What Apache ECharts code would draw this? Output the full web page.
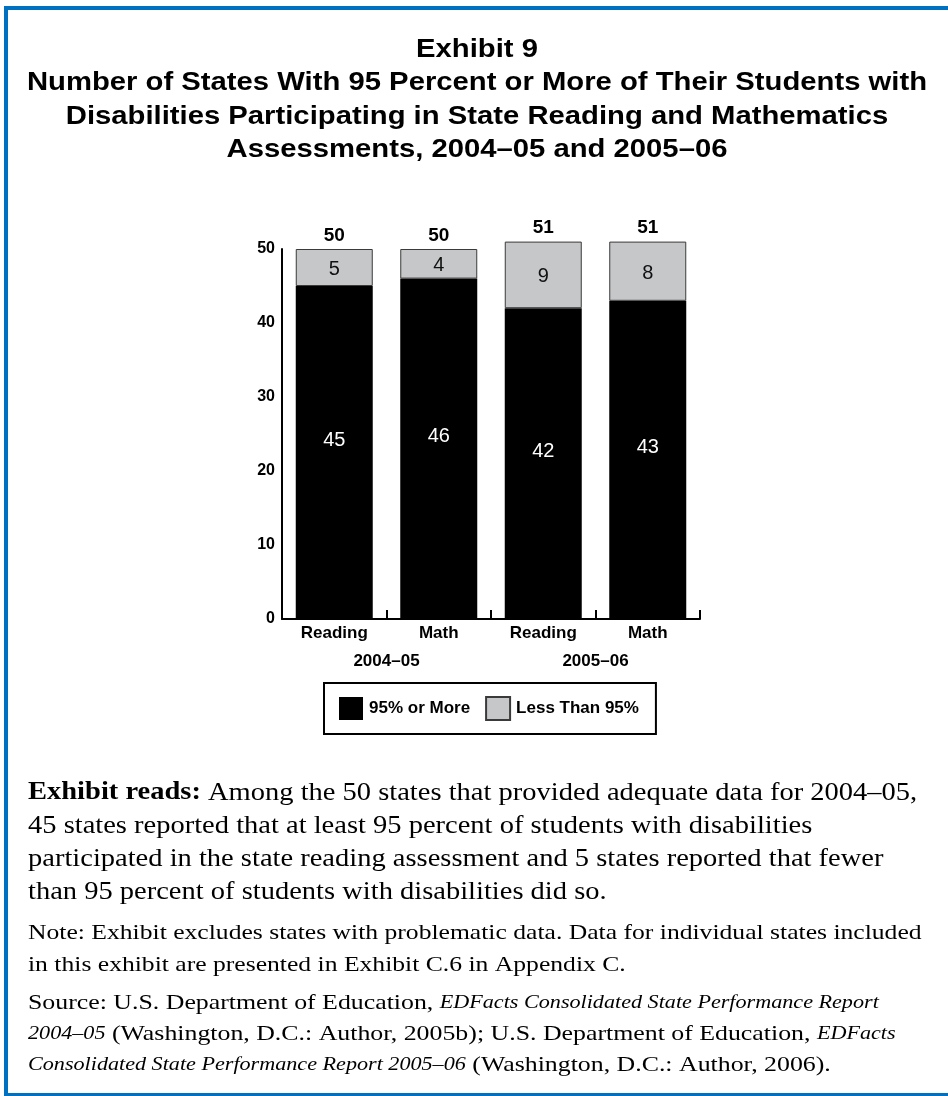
<!DOCTYPE html>
<html>
<head>
<meta charset="utf-8">
<title>Exhibit 9</title>
<script src="https://cdn.jsdelivr.net/npm/echarts@6/dist/echarts.min.js"></script>
<style>
  html, body { margin: 0; padding: 0; background: #ffffff; }
  #chart { width: 948px; height: 1096px; }
</style>
</head>
<body>
<div id="chart"></div>
<script>
// Bar categories (subject within school year) and school-year groups
const subjects = ['Reading', 'Math', 'Reading', 'Math'];
const years = ['2004–05', '2005–06'];

// Number of states in each participation bucket
const atLeast95 = [45, 46, 42, 43];
const below95 = [5, 4, 9, 8];

// Value-axis ticks
const yTicks = { min: 0, max: 50, interval: 10 };

const titleLines = [
  'Exhibit 9',
  'Number of States With 95 Percent or More of Their Students with',
  'Disabilities Participating in State Reading and Mathematics',
  'Assessments, 2004–05 and 2005–06'
];

const readsLines = [
  '{b|Exhibit reads:} Among the 50 states that provided adequate data for 2004–05,',
  '45 states reported that at least 95 percent of students with disabilities',
  'participated in the state reading assessment and 5 states reported that fewer',
  'than 95 percent of students with disabilities did so.'
];
const noteLines = [
  'Note: Exhibit excludes states with problematic data. Data for individual states included',
  'in this exhibit are presented in Exhibit C.6 in Appendix C.'
];
const sourceLines = [
  'Source: U.S. Department of Education, {i|EDFacts Consolidated State Performance Report}',
  '{i|2004–05} (Washington, D.C.: Author, 2005b); U.S. Department of Education, {i|EDFacts}',
  '{i|Consolidated State Performance Report 2005–06} (Washington, D.C.: Author, 2006).'
];

const SANS = '"Liberation Sans", Arial, Helvetica, sans-serif';
const SERIF = '"Liberation Serif", "Times New Roman", serif';

const totals = atLeast95.map((v, i) => v + below95[i]);

// One text element per line; wide book face approximated by a horizontal stretch
function textBlock(lines, x, y0, step, size, stretch, rich) {
  return lines.map((t, i) => ({
    type: 'text',
    x: x,
    y: y0 + i * step,
    scaleX: stretch,
    silent: true,
    style: {
      text: t,
      fontFamily: SERIF,
      fontSize: size,
      fill: '#000',
      verticalAlign: 'middle',
      rich: rich
    }
  }));
}

const titleBlock = titleLines.map((t, i) => ({
  type: 'text',
  x: 477,
  y: 50 + i * 33.5,
  scaleX: 1.17,
  silent: true,
  style: {
    text: t,
    fontFamily: SANS,
    fontSize: 25,
    fontWeight: 'bold',
    fill: '#000',
    align: 'center',
    verticalAlign: 'middle'
  }
}));

const richReads = {
  b: { fontFamily: SERIF, fontSize: 25, fontWeight: 'bold', fill: '#000' }
};
const richSource = {
  i: { fontFamily: SERIF, fontSize: 18, fontStyle: 'italic', fill: '#000' }
};

const chart = echarts.init(document.getElementById('chart'), null, { renderer: 'canvas' });

chart.setOption({
  backgroundColor: '#ffffff',
  animation: false,
  legend: {
    left: 324,
    top: 683,
    data: ['95% or More', 'Less Than 95%'],
    icon: 'rect',
    itemWidth: 24,
    itemHeight: 23,
    itemGap: 15,
    padding: [13, 17, 13, 15],
    borderColor: '#000',
    borderWidth: 2,
    selectedMode: false,
    textStyle: { fontFamily: SANS, fontSize: 17, fontWeight: 'bold', color: '#000', padding: [0, 0, 0, 1] }
  },
  grid: { left: 282, right: 248, top: 249, bottom: 477 },
  xAxis: [
    {
      type: 'category',
      data: subjects,
      axisLine: { show: true, lineStyle: { color: '#000', width: 2 } },
      axisTick: { show: true, inside: true, length: 9, lineStyle: { color: '#000', width: 2 } },
      axisLabel: { margin: 6, fontFamily: SANS, fontSize: 17, fontWeight: 'bold', color: '#000' }
    },
    {
      type: 'category',
      data: years,
      position: 'bottom',
      offset: 28,
      axisLine: { show: false },
      axisTick: { show: false },
      axisLabel: { margin: 6, fontFamily: SANS, fontSize: 17, fontWeight: 'bold', color: '#000' }
    }
  ],
  yAxis: {
    type: 'value',
    min: yTicks.min,
    max: yTicks.max,
    interval: yTicks.interval,
    axisLine: { show: true, lineStyle: { color: '#000', width: 2 } },
    axisTick: { show: false },
    splitLine: { show: false },
    axisLabel: { margin: 7, padding: [12, 0, 0, 0], fontFamily: SANS, fontSize: 16, fontWeight: 'bold', color: '#000' }
  },
  series: [
    {
      name: '95% or More',
      type: 'bar',
      stack: 'states',
      barWidth: 77,
      clip: false,
      data: atLeast95,
      itemStyle: { color: '#000000' },
      label: {
        show: true,
        position: 'inside',
        offset: [0, -12],
        fontFamily: SANS,
        fontSize: 20,
        color: '#ffffff'
      }
    },
    {
      name: 'Less Than 95%',
      type: 'bar',
      stack: 'states',
      barWidth: 77,
      clip: false,
      data: below95,
      itemStyle: { color: '#c6c7c9', borderColor: '#3a3a3a', borderWidth: 1 },
      label: {
        show: true,
        position: 'inside',
        offset: [0, 2],
        fontFamily: SANS,
        fontSize: 20,
        color: '#111'
      }
    },
    {
      // Invisible carrier for the total above each stack
      name: 'total',
      type: 'bar',
      stack: 'states',
      barWidth: 77,
      clip: false,
      data: totals.map(() => 0),
      itemStyle: { color: 'transparent' },
      label: {
        show: true,
        position: 'top',
        distance: 4,
        formatter: p => String(totals[p.dataIndex]),
        fontFamily: SANS,
        fontSize: 19,
        fontWeight: 'bold',
        color: '#000'
      }
    }
  ],
  graphic: [
    {
      type: 'rect',
      shape: { x: 6, y: 8, width: 1000, height: 1087 },
      style: { fill: 'none', stroke: '#0070c0', lineWidth: 4 },
      silent: true
    }
  ]
    .concat(titleBlock)
    .concat(textBlock(readsLines, 28, 793, 33, 25, 1.14, richReads))
    .concat(textBlock(noteLines, 28, 933, 32, 21, 1.22, {}))
    .concat(textBlock(sourceLines, 28, 1003, 31, 21, 1.23, richSource))
});
</script>
</body>
</html>
